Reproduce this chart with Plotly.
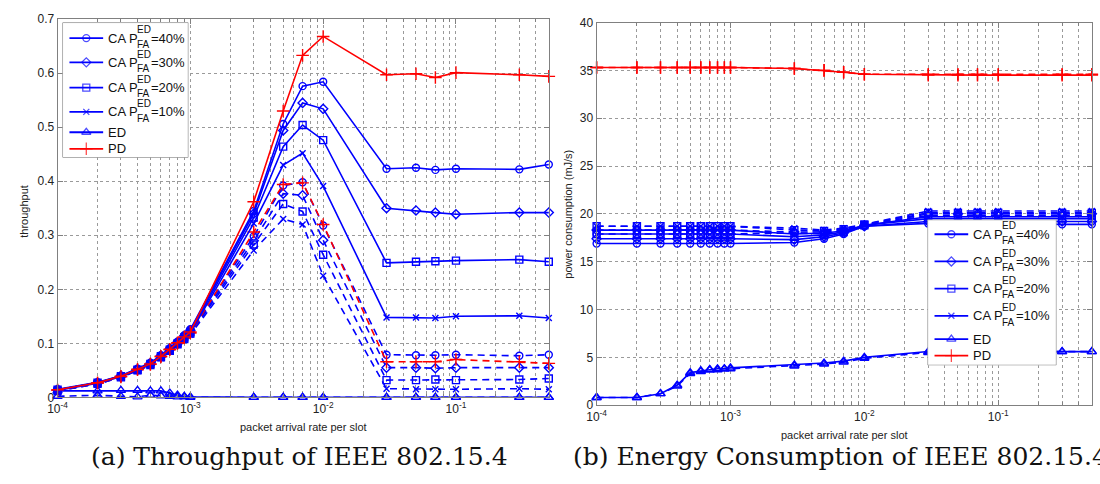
import math
import plotly.graph_objects as go

# ---------------- data ----------------
x_rate = [1e-4, 2e-4, 3e-4, 4e-4, 5e-4, 6e-4, 7e-4, 8e-4, 9e-4, 1e-3,
          3e-3, 5e-3, 7e-3, 1e-2, 3e-2, 5e-2, 7e-2, 1e-1, 3e-1, 5e-1]

# (a) throughput, solid curves
thr_ca40 = [0.015, 0.028, 0.040, 0.053, 0.064, 0.078, 0.091, 0.103, 0.115, 0.126,
            0.345, 0.506, 0.576, 0.584, 0.423, 0.425, 0.421, 0.423, 0.422, 0.431]
thr_ca30 = [0.014, 0.027, 0.040, 0.052, 0.063, 0.077, 0.090, 0.102, 0.114, 0.124,
            0.340, 0.494, 0.545, 0.534, 0.350, 0.346, 0.342, 0.339, 0.342, 0.342]
thr_ca20 = [0.014, 0.027, 0.039, 0.051, 0.062, 0.076, 0.088, 0.100, 0.111, 0.121,
            0.333, 0.464, 0.504, 0.476, 0.249, 0.251, 0.252, 0.253, 0.255, 0.251]
thr_ca10 = [0.013, 0.026, 0.038, 0.050, 0.061, 0.075, 0.087, 0.099, 0.109, 0.119,
            0.322, 0.430, 0.452, 0.391, 0.148, 0.148, 0.147, 0.150, 0.151, 0.147]
thr_ed = [0.012, 0.012, 0.013, 0.013, 0.012, 0.012, 0.008, 0.004, 0.002, 0.001,
          0.0, 0.0, 0.0, 0.0, 0.0, 0.0, 0.0, 0.0, 0.0, 0.0]
thr_pd = [0.014, 0.027, 0.039, 0.052, 0.062, 0.076, 0.089, 0.101, 0.112, 0.121,
          0.362, 0.530, 0.633, 0.668, 0.597, 0.599, 0.592, 0.601, 0.597, 0.594]

# (a) throughput, dashed curves
thr_ca40_d = [0.013, 0.026, 0.039, 0.052, 0.062, 0.076, 0.089, 0.101, 0.112, 0.122,
              0.298, 0.392, 0.398, 0.318, 0.079, 0.078, 0.078, 0.079, 0.077, 0.079]
thr_ca30_d = [0.013, 0.026, 0.038, 0.051, 0.061, 0.075, 0.088, 0.099, 0.110, 0.120,
              0.290, 0.377, 0.374, 0.291, 0.055, 0.055, 0.054, 0.055, 0.055, 0.055]
thr_ca20_d = [0.012, 0.025, 0.037, 0.050, 0.060, 0.074, 0.086, 0.098, 0.108, 0.118,
              0.283, 0.358, 0.344, 0.264, 0.032, 0.032, 0.033, 0.032, 0.033, 0.035]
thr_ca10_d = [0.012, 0.025, 0.037, 0.049, 0.059, 0.073, 0.085, 0.097, 0.107, 0.116,
              0.272, 0.330, 0.320, 0.225, 0.016, 0.015, 0.015, 0.015, 0.016, 0.015]
thr_ed_d = [0.002, 0.004, 0.002, 0.001, 0.004, 0.003, 0.002, 0.001, 0.001, 0.000,
            0.0, 0.0, 0.0, 0.0, 0.0, 0.0, 0.0, 0.0, 0.0, 0.0]
thr_pd_d = [0.013, 0.026, 0.038, 0.051, 0.061, 0.075, 0.088, 0.100, 0.110, 0.119,
            0.306, 0.394, 0.397, 0.320, 0.066, 0.066, 0.066, 0.070, 0.066, 0.063]

# (b) power consumption, solid curves
pw_ca40 = [16.9, 16.9, 16.9, 16.9, 16.9, 16.9, 16.9, 16.9, 16.9, 16.9,
           17.0, 17.4, 17.9, 18.7, 19.0, 19.0, 19.0, 19.0, 18.9, 18.9]
pw_ca30 = [17.4, 17.4, 17.4, 17.4, 17.4, 17.4, 17.4, 17.4, 17.4, 17.4,
           17.3, 17.6, 18.0, 18.7, 19.2, 19.2, 19.2, 19.2, 19.2, 19.2]
pw_ca20 = [17.9, 17.9, 17.9, 17.9, 17.9, 17.9, 17.9, 17.9, 17.9, 17.9,
           17.6, 17.8, 18.1, 18.8, 19.5, 19.5, 19.5, 19.5, 19.5, 19.5]
pw_ca10 = [18.3, 18.3, 18.3, 18.3, 18.3, 18.3, 18.3, 18.3, 18.3, 18.3,
           17.9, 18.0, 18.2, 18.8, 19.7, 19.7, 19.7, 19.7, 19.7, 19.7]
pw_ed = [0.8, 0.8, 1.2, 2.1, 3.4, 3.6, 3.7, 3.8, 3.8, 3.9,
         4.2, 4.4, 4.6, 5.0, 5.6, 5.6, 5.6, 5.6, 5.6, 5.6]
pw_pd = [35.3, 35.3, 35.3, 35.3, 35.3, 35.3, 35.3, 35.3, 35.3, 35.3,
         35.2, 35.0, 34.8, 34.6, 34.5, 34.5, 34.5, 34.5, 34.5, 34.5]

# (b) power consumption, dashed curves
pw_ca40_d = [17.9, 17.9, 17.9, 17.9, 17.9, 17.9, 17.9, 17.9, 17.9, 17.9,
             18.0, 17.9, 18.2, 18.8, 19.8, 19.8, 19.8, 19.8, 19.8, 19.8]
pw_ca30_d = [18.3, 18.3, 18.3, 18.3, 18.3, 18.3, 18.3, 18.3, 18.3, 18.3,
             18.1, 18.1, 18.3, 18.8, 20.0, 20.0, 20.0, 20.0, 20.0, 20.0]
pw_ca20_d = [18.7, 18.7, 18.7, 18.7, 18.7, 18.7, 18.7, 18.7, 18.7, 18.7,
             18.3, 18.2, 18.4, 18.9, 20.1, 20.1, 20.1, 20.1, 20.1, 20.1]
pw_ca10_d = [18.7, 18.7, 18.7, 18.7, 18.7, 18.7, 18.7, 18.7, 18.7, 18.7,
             18.5, 18.3, 18.5, 18.9, 20.3, 20.3, 20.3, 20.3, 20.3, 20.3]
pw_ed_d = [0.8, 0.8, 1.2, 2.0, 3.3, 3.5, 3.7, 3.7, 3.8, 3.8,
           4.1, 4.3, 4.5, 4.9, 5.5, 5.6, 5.6, 5.6, 5.6, 5.6]
pw_pd_d = [35.3, 35.3, 35.3, 35.3, 35.3, 35.3, 35.3, 35.3, 35.3, 35.3,
           35.2, 35.0, 34.8, 34.6, 34.6, 34.6, 34.6, 34.6, 34.6, 34.6]

series_keys = ["CA40", "CA30", "CA20", "CA10", "ED", "PD"]
ca_percent = ["40%", "30%", "20%", "10%"]
x_tick_vals = [1e-4, 1e-3, 1e-2, 1e-1]
x_tick_text = ["10<sup>-4</sup>", "10<sup>-3</sup>", "10<sup>-2</sup>", "10<sup>-1</sup>"]
caption_a = "(a) Throughput of IEEE 802.15.4"
caption_b = "(b) Energy Consumption of IEEE 802.15.4"

# ---------------- style ----------------
W, H = 1100, 484
BLUE = "#0000ff"
RED = "#ff0000"
SANS = "Liberation Sans, Arial, Helvetica, sans-serif"
SERIF = "DejaVu Serif, Liberation Serif, serif"
AXC = "#808080"
GRIDC = "#9a9a9a"
DASH = "7px,5px"

style = {
    "CA40": dict(symbol="circle-open", color=BLUE, size=7),
    "CA30": dict(symbol="diamond-open", color=BLUE, size=7),
    "CA20": dict(symbol="square-open", color=BLUE, size=7),
    "CA10": dict(symbol="x-thin-open", color=BLUE, size=6),
    "ED": dict(symbol="triangle-up-open", color=BLUE, size=8),
    "PD": dict(symbol="cross-thin-open", color=RED, size=9),
}

thr_solid = dict(CA40=thr_ca40, CA30=thr_ca30, CA20=thr_ca20, CA10=thr_ca10, ED=thr_ed, PD=thr_pd)
thr_dash = dict(CA40=thr_ca40_d, CA30=thr_ca30_d, CA20=thr_ca20_d, CA10=thr_ca10_d, ED=thr_ed_d, PD=thr_pd_d)
pw_solid = dict(CA40=pw_ca40, CA30=pw_ca30, CA20=pw_ca20, CA10=pw_ca10, ED=pw_ed, PD=pw_pd)
pw_dash = dict(CA40=pw_ca40_d, CA30=pw_ca30_d, CA20=pw_ca20_d, CA10=pw_ca10_d, ED=pw_ed_d, PD=pw_pd_d)

fig = go.Figure()

draw_order = ["ED", "CA10", "CA20", "CA30", "CA40", "PD"]


def add_curve(xa, ya, yvals, key, dashed):
    st = style[key]
    fig.add_trace(go.Scatter(
        x=x_rate, y=yvals, mode="lines+markers", xaxis=xa, yaxis=ya,
        line=dict(color=st["color"], width=1.6, dash=DASH if dashed else "solid"),
        marker=dict(symbol=st["symbol"], size=st["size"], color=st["color"],
                    line=dict(color=st["color"], width=1.4)),
        cliponaxis=False, showlegend=False, hoverinfo="skip"))


for key in draw_order:
    add_curve("x", "y", thr_dash[key], key, True)
for key in draw_order:
    add_curve("x", "y", thr_solid[key], key, False)
for key in draw_order:
    add_curve("x2", "y2", pw_dash[key], key, True)
for key in draw_order:
    add_curve("x2", "y2", pw_solid[key], key, False)

# ---------------- legends (drawn in helper axes, pixel units) ----------------
legends = [
    dict(xa="x3", ya="y3", left=53, top=16, w=127, h=139, rows=[16, 41, 67, 92, 113, 130]),
    dict(xa="x4", ya="y4", left=926, top=219, w=130, h=150, rows=[15, 43, 71, 99, 123, 140]),
]
annotations = []
for lg in legends:
    w, h = lg["w"], lg["h"]
    fig.add_trace(go.Scatter(
        x=[0, w, w, 0, 0], y=[0, 0, h, h, 0], xaxis=lg["xa"], yaxis=lg["ya"],
        mode="lines", fill="toself", fillcolor="white",
        line=dict(color="#606060", width=1), showlegend=False, hoverinfo="skip"))
    for i, key in enumerate(series_keys):
        st = style[key]
        ry = lg["rows"][i]
        fig.add_trace(go.Scatter(
            x=[7, 24, 41], y=[ry, ry, ry], xaxis=lg["xa"], yaxis=lg["ya"],
            mode="lines+markers",
            line=dict(color=st["color"], width=1.8),
            marker=dict(symbol=st["symbol"], size=[0, st["size"], 0], color=st["color"],
                        line=dict(color=st["color"], width=1.3)),
            showlegend=False, hoverinfo="skip"))
        fnt = dict(family=SANS, size=13, color="#111")
        sfnt = dict(family=SANS, size=10, color="#111")
        if key.startswith("CA"):
            annotations += [
                dict(x=44, y=ry, xref=lg["xa"], yref=lg["ya"], text="CA P", showarrow=False,
                     xanchor="left", yanchor="middle", font=fnt),
                dict(x=73.5, y=ry - 8.5, xref=lg["xa"], yref=lg["ya"], text="ED", showarrow=False,
                     xanchor="left", yanchor="middle", font=sfnt),
                dict(x=73.5, y=ry + 6.5, xref=lg["xa"], yref=lg["ya"], text="FA", showarrow=False,
                     xanchor="left", yanchor="middle", font=sfnt),
                dict(x=87, y=ry, xref=lg["xa"], yref=lg["ya"], text="=" + ca_percent[i],
                     showarrow=False, xanchor="left", yanchor="middle", font=fnt),
            ]
        else:
            annotations.append(dict(x=44, y=ry, xref=lg["xa"], yref=lg["ya"], text=key,
                                    showarrow=False, xanchor="left", yanchor="middle", font=fnt))

# ---------------- axes ----------------
minor_vals = [k * 10 ** e for e in range(-4, 0) for k in range(2, 10) if k * 10 ** e <= 0.5]

common = dict(showline=True, linecolor=AXC, linewidth=1, mirror="ticks", ticks="inside",
              ticklen=5, tickcolor=AXC, showgrid=True, gridcolor=GRIDC, griddash="dot",
              gridwidth=1, zeroline=False,
              tickfont=dict(family=SANS, size=12, color="#222"))
xlog = dict(common, type="log", range=[-4, math.log10(0.5) + 0.002], tickmode="array",
            tickvals=x_tick_vals, ticktext=x_tick_text,
            minor=dict(tickmode="array", tickvals=minor_vals, ticks="inside", ticklen=3,
                       tickcolor=AXC, showgrid=True, gridcolor=GRIDC, griddash="dot", gridwidth=1))

fig.update_layout(
    width=W, height=H, margin=dict(l=0, r=0, t=0, b=0),
    paper_bgcolor="white", plot_bgcolor="white", showlegend=False,
    xaxis=dict(xlog, domain=[48 / W, 544 / W], anchor="y"),
    yaxis=dict(common, domain=[1 - 402 / H, 1 - 12.5 / H], range=[0, 0.7], dtick=0.1,
               tick0=0, anchor="x"),
    xaxis2=dict(xlog, domain=[592 / W, 1092 / W], anchor="y2"),
    yaxis2=dict(common, domain=[1 - 410 / H, 1 - 16 / H], range=[0, 40], dtick=5,
                tick0=0, anchor="x2"),
    xaxis3=dict(domain=[53 / W, 180 / W], range=[0, 127], visible=False, anchor="y3"),
    yaxis3=dict(domain=[1 - 155 / H, 1 - 16 / H], range=[139, 0], visible=False, anchor="x3"),
    xaxis4=dict(domain=[926 / W, 1056 / W], range=[0, 130], visible=False, anchor="y4"),
    yaxis4=dict(domain=[1 - 369 / H, 1 - 219 / H], range=[150, 0], visible=False, anchor="x4"),
)

lab = dict(family=SANS, size=11, color="#222")
cap_font = dict(family=SERIF, size=25, color="#111")
annotations += [
    dict(x=14 / W, y=1 - 210 / H, xref="paper", yref="paper", text="throughput", textangle=-90,
         showarrow=False, font=lab, xanchor="center", yanchor="middle"),
    dict(x=296 / W, y=1 - 433 / H, xref="paper", yref="paper", text="packet arrival rate per slot",
         showarrow=False, font=lab, xanchor="center", yanchor="middle"),
    dict(x=563 / W, y=1 - 213 / H, xref="paper", yref="paper", text="power consumption (mJ/s)",
         textangle=-90, showarrow=False, font=lab, xanchor="center", yanchor="middle"),
    dict(x=842 / W, y=1 - 441 / H, xref="paper", yref="paper", text="packet arrival rate per slot",
         showarrow=False, font=lab, xanchor="center", yanchor="middle"),
    dict(x=80 / W, y=1 - 463 / H, xref="paper", yref="paper", text=caption_a, showarrow=False,
         font=cap_font, xanchor="left", yanchor="middle"),
    dict(x=566 / W, y=1 - 463 / H, xref="paper", yref="paper", text=caption_b, showarrow=False,
         font=cap_font, xanchor="left", yanchor="middle"),
]
fig.update_layout(annotations=annotations)

fig.write_html("out.html", config={"displayModeBar": False},
               post_script="document.body.style.margin='0px';")
